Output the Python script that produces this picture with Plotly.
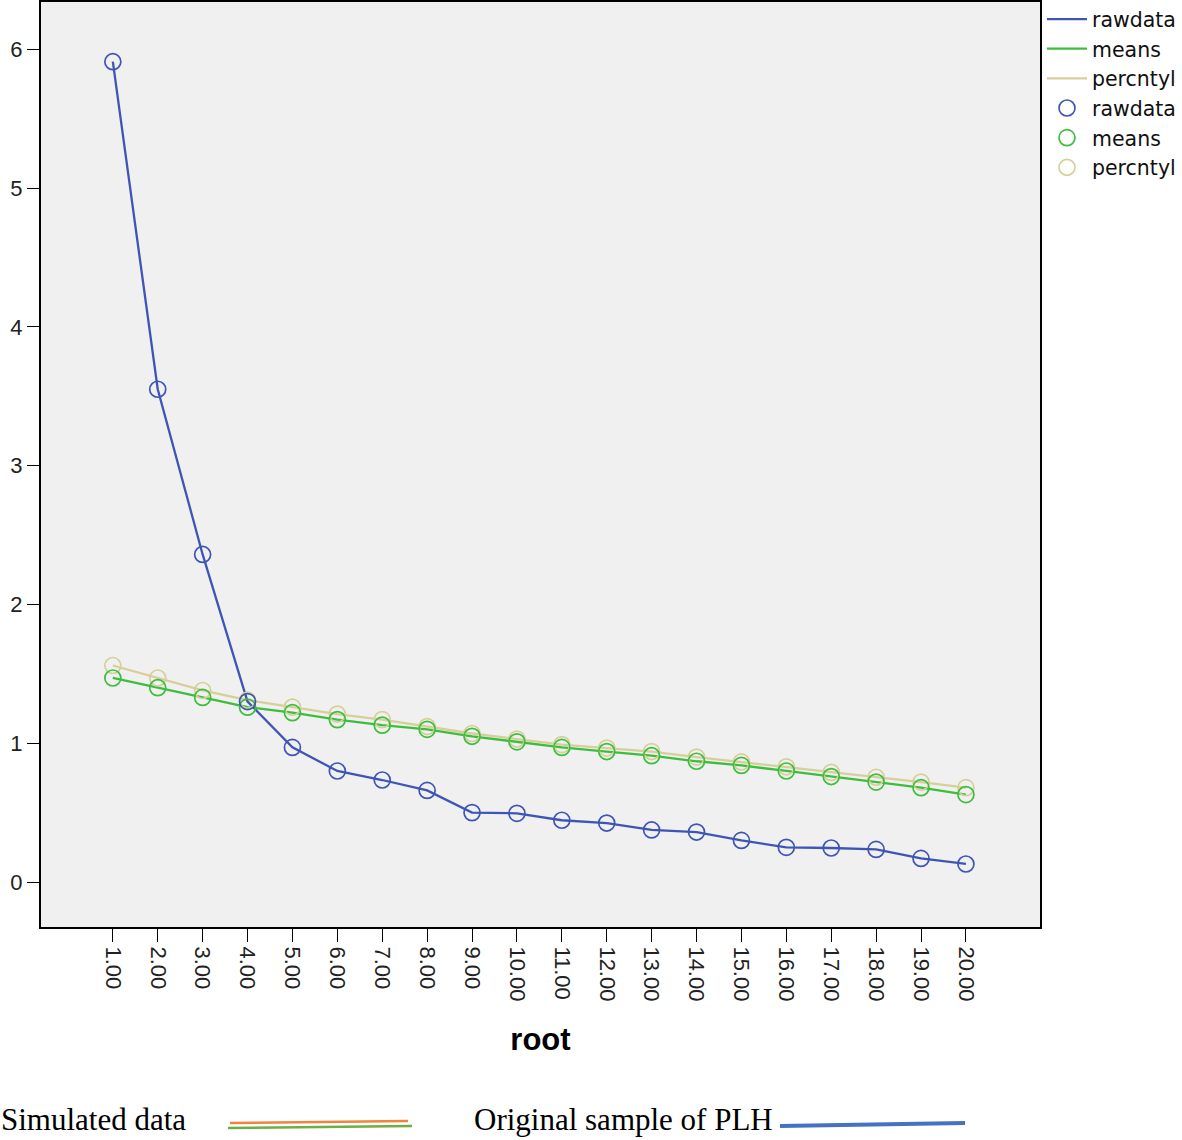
import plotly.graph_objects as go

root = list(range(1, 21))
root_labels = [f"{v:.2f}" for v in root]
rawdata = [5.91, 3.55, 2.36, 1.30, 0.97, 0.80, 0.735, 0.66, 0.50, 0.495,
           0.445, 0.425, 0.375, 0.36, 0.30, 0.25, 0.245, 0.235, 0.17, 0.13]
means = [1.47, 1.40, 1.33, 1.26, 1.22, 1.17, 1.13, 1.10, 1.05, 1.01,
         0.97, 0.94, 0.91, 0.87, 0.84, 0.80, 0.76, 0.72, 0.68, 0.63]
percntyl = [1.56, 1.47, 1.38, 1.31, 1.26, 1.21, 1.17, 1.12, 1.07, 1.03,
            0.99, 0.965, 0.94, 0.90, 0.865, 0.83, 0.79, 0.755, 0.72, 0.68]
y_ticks = [0, 1, 2, 3, 4, 5, 6]

BLUE = "#3E55B5"
GREEN = "#3CBE3C"
TAN = "#D6CF9A"

series = [("percntyl", percntyl, TAN), ("means", means, GREEN), ("rawdata", rawdata, BLUE)]
fig = go.Figure()
order_lines = ["rawdata", "means", "percntyl"]
for name, vals, col in series:
    fig.add_trace(go.Scatter(x=root, y=vals, mode="lines", name=name,
                             line=dict(color=col, width=2.3),
                             legendrank=order_lines.index(name) + 1))
for name, vals, col in series:
    fig.add_trace(go.Scatter(x=root, y=vals, mode="markers", name=name,
                             marker=dict(symbol="circle-open", size=16,
                                         color=col, line=dict(width=1.7, color=col)),
                             legendrank=order_lines.index(name) + 4))

axis_font = dict(family="Liberation Sans, Arial", size=22, color="#222222")
fig.update_layout(
    width=1182, height=1140,
    margin=dict(l=41, r=142, t=2, b=213, autoexpand=False),
    paper_bgcolor="white", plot_bgcolor="#F0F0F0",
    showlegend=True,
    legend=dict(x=1.002, xanchor="left", y=1.003, yanchor="top",
                font=dict(family="DejaVu Sans", size=20.5, color="#111111"),
                bgcolor="rgba(0,0,0,0)", tracegroupgap=0, itemwidth=40),
    xaxis=dict(range=[-0.6, 21.65], tickvals=root, ticktext=root_labels,
               tickangle=90, ticks="outside", ticklen=13, tickcolor="black",
               tickfont=axis_font, showgrid=False, zeroline=False, automargin=False,
               showline=True, linecolor="black", linewidth=2, mirror=True,
               title=dict(text="<b>root</b>", font=dict(family="Liberation Sans, Arial", size=31, color="black"),
                          standoff=28)),
    yaxis=dict(range=[-0.324, 6.34], tickvals=y_ticks, ticks="outside", ticklen=12,
               tickcolor="black", tickfont=axis_font, showgrid=False, zeroline=False,
               automargin=False,
               showline=True, linecolor="black", linewidth=2, mirror=True),
)


def px_x(p):
    return (p - 41) / 999


def px_y(p):
    return (927 - p) / 925


cap_font = dict(family="Liberation Serif, Times New Roman", size=31, color="black")
fig.add_annotation(text="Simulated data", xref="paper", yref="paper",
                   x=px_x(0), y=px_y(1119), xanchor="left", yanchor="middle",
                   showarrow=False, font=cap_font, borderpad=0)
fig.add_annotation(text="Original sample of PLH", xref="paper", yref="paper",
                   x=px_x(473), y=px_y(1119), xanchor="left", yanchor="middle",
                   showarrow=False, font=cap_font, borderpad=0)

fig.add_shape(type="line", xref="paper", yref="paper", x0=px_x(230), x1=px_x(408),
              y0=px_y(1123), y1=px_y(1121), line=dict(color="#F0843C", width=2.5))
fig.add_shape(type="line", xref="paper", yref="paper", x0=px_x(228), x1=px_x(412),
              y0=px_y(1128), y1=px_y(1126), line=dict(color="#6DAE45", width=2.5))
fig.add_shape(type="line", xref="paper", yref="paper", x0=px_x(780), x1=px_x(965),
              y0=px_y(1126), y1=px_y(1123), line=dict(color="#4472C4", width=4))

fig.write_html("out.html", config={"displayModeBar": False},
               post_script="document.body.style.margin='0px';document.body.style.padding='0px';")
